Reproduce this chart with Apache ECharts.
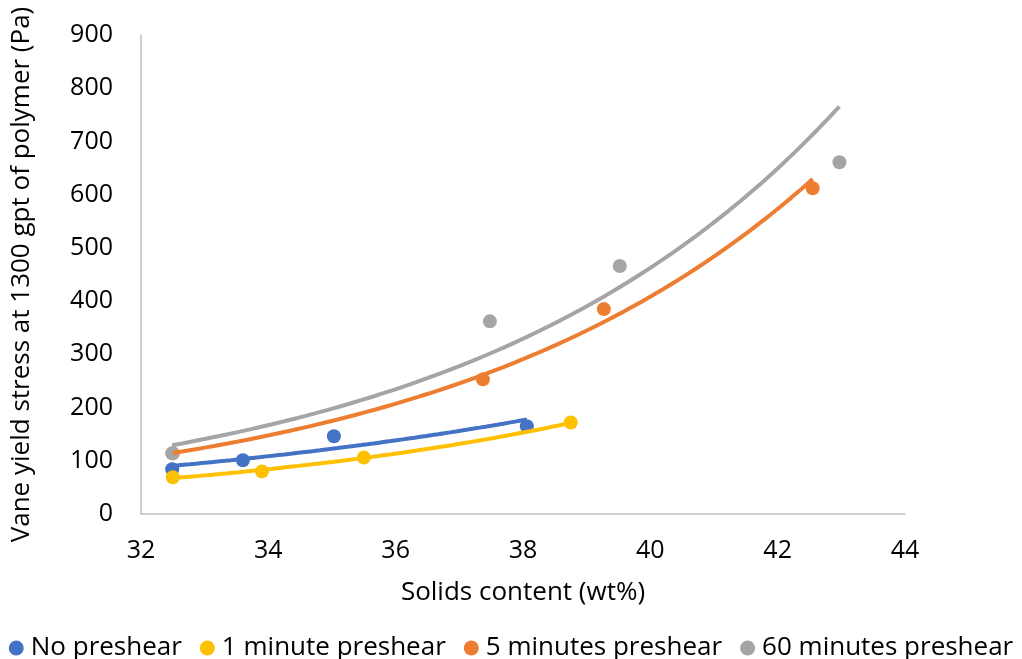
<!DOCTYPE html>
<html><head><meta charset="utf-8">
<script src="https://cdn.jsdelivr.net/npm/echarts@6/dist/echarts.min.js"></script>
<style>html,body{margin:0;padding:0;background:#fff}#c{width:1022px;height:659px}</style>
</head><body><div id="c"></div>
<script>
var seriesNames = ['No preshear', '1 minute preshear', '5 minutes preshear', '60 minutes preshear'];
var colors = ['#4472C4', '#FFC000', '#ED7D31', '#A5A5A5'];
var noPreshear = [[32.49, 84], [33.6, 101], [35.03, 146], [38.06, 165]];
var oneMinute = [[32.5, 69], [33.9, 80], [35.5, 106], [38.75, 172]];
var fiveMinutes = [[32.5, 114], [37.37, 253], [39.27, 385], [42.55, 612]];
var sixtyMinutes = [[32.49, 114], [37.48, 362], [39.52, 466], [42.97, 661]];
var xTicks = [32, 34, 36, 38, 40, 42, 44];
var yTicks = [0, 100, 200, 300, 400, 500, 600, 700, 800, 900];

// Exponential trendline (least squares on ln y), like Excel's exponential trendline
function expTrend(pts) {
  var n = pts.length, sx = 0, sy = 0;
  pts.forEach(function (p) { sx += p[0]; sy += Math.log(p[1]); });
  var mx = sx / n, my = sy / n, sxy = 0, sxx = 0;
  pts.forEach(function (p) { sxy += (p[0] - mx) * (Math.log(p[1]) - my); sxx += (p[0] - mx) * (p[0] - mx); });
  var b = sxy / sxx, a = my - b * mx;
  var x0 = pts[0][0], x1 = pts[n - 1][0], out = [];
  for (var i = 0; i <= 60; i++) { var x = x0 + (x1 - x0) * i / 60; out.push([x, Math.exp(a + b * x)]); }
  return out;
}

var allData = [noPreshear, oneMinute, fiveMinutes, sixtyMinutes];
var series = [];
allData.forEach(function (d, i) {
  series.push({ name: seriesNames[i], type: 'scatter', data: d, symbolSize: 14, itemStyle: { color: colors[i], opacity: 1 }, z: 2 });
});
allData.forEach(function (d, i) {
  series.push({ name: seriesNames[i] + ' trend', type: 'line', data: expTrend(d), showSymbol: false, symbol: 'none', smooth: false,
    lineStyle: { color: colors[i], width: 4 }, itemStyle: { color: colors[i] }, z: 3, silent: true });
});

var chart = echarts.init(document.getElementById('c'));
chart.setOption({
  animation: false,
  color: colors,
  textStyle: { fontFamily: 'Open Sans' },
  grid: { left: 141, right: 117, top: 35, bottom: 145 },
  legend: {
    data: seriesNames, top: 630, left: 'center', icon: 'circle', itemWidth: 15, itemHeight: 15, itemGap: 18,
    textStyle: { fontSize: 26, color: '#000', fontFamily: 'Open Sans', padding: [0, 0, 0, 2] }
  },
  xAxis: {
    type: 'value', min: xTicks[0], max: xTicks[xTicks.length - 1], interval: 2,
    name: 'Solids content (wt%)', nameLocation: 'middle', nameGap: 66,
    nameTextStyle: { fontSize: 26, color: '#000' },
    axisLine: { show: true, lineStyle: { color: '#BFBFBF', width: 1.5 } },
    axisTick: { show: false }, splitLine: { show: false },
    axisLabel: { fontSize: 25, color: '#000', margin: 24 }
  },
  yAxis: {
    type: 'value', min: yTicks[0], max: yTicks[yTicks.length - 1], interval: 100,
    name: 'Vane yield stress at 1300 gpt of polymer (Pa)', nameLocation: 'middle', nameGap: 106,
    nameTextStyle: { fontSize: 26, color: '#000' },
    axisLine: { show: true, lineStyle: { color: '#BFBFBF', width: 1.5 } },
    axisTick: { show: false }, splitLine: { show: false },
    axisLabel: { fontSize: 25, color: '#000', margin: 28 }
  },
  series: series
});
</script></body></html>
